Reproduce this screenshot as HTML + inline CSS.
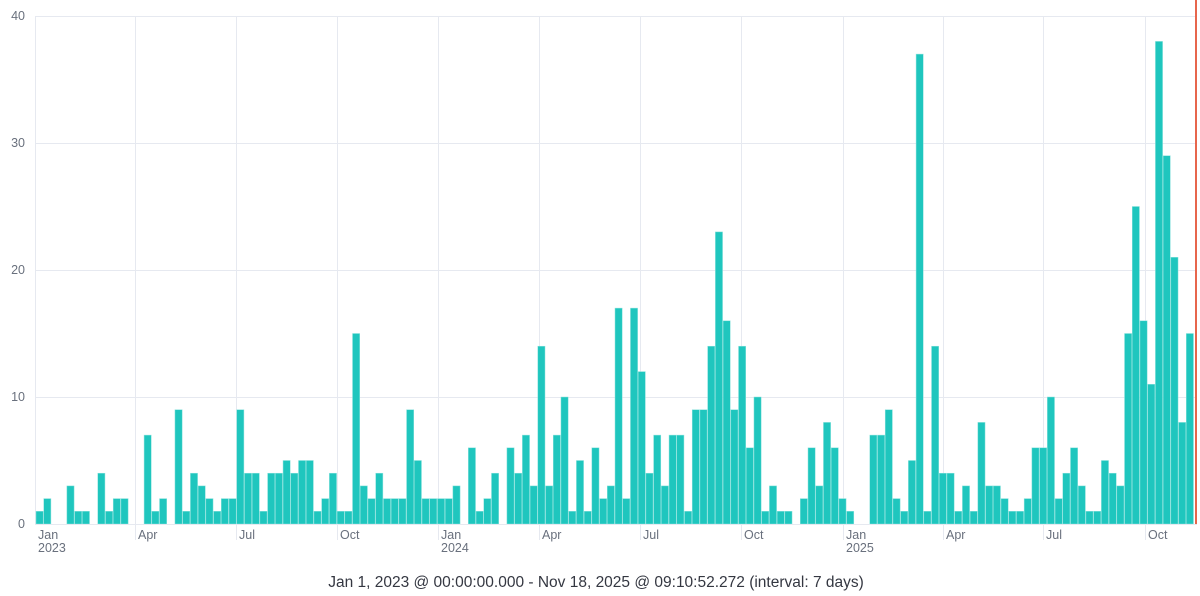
<!DOCTYPE html>
<html><head><meta charset="utf-8"><style>
html,body{margin:0;padding:0;background:#fff;}
svg{display:block;font-family:"Liberation Sans",sans-serif;}
</style></head><body>
<svg id="c" width="1200" height="596" viewBox="0 0 1200 596" xmlns="http://www.w3.org/2000/svg">
<g stroke="#e6e9f0" stroke-width="1">
<line x1="35" y1="16.5" x2="1197" y2="16.5"/>
<line x1="35" y1="143.5" x2="1197" y2="143.5"/>
<line x1="35" y1="270.5" x2="1197" y2="270.5"/>
<line x1="35" y1="397.5" x2="1197" y2="397.5"/>
<line x1="35.5" y1="16" x2="35.5" y2="524"/>
<line x1="135.5" y1="16" x2="135.5" y2="540"/>
<line x1="236.5" y1="16" x2="236.5" y2="540"/>
<line x1="337.5" y1="16" x2="337.5" y2="540"/>
<line x1="438.5" y1="16" x2="438.5" y2="540"/>
<line x1="539.5" y1="16" x2="539.5" y2="540"/>
<line x1="640.5" y1="16" x2="640.5" y2="540"/>
<line x1="741.5" y1="16" x2="741.5" y2="540"/>
<line x1="843.5" y1="16" x2="843.5" y2="540"/>
<line x1="943.5" y1="16" x2="943.5" y2="540"/>
<line x1="1043.5" y1="16" x2="1043.5" y2="540"/>
<line x1="1145.5" y1="16" x2="1145.5" y2="540"/>
</g>
<g id="bars" fill="#1fc6be" stroke="#8fe3de" stroke-width="0.5"></g>
<line x1="35" y1="524.5" x2="1197" y2="524.5" stroke="#e6e9f0"/>
<line x1="1196" y1="0" x2="1196" y2="524" stroke="#e7664c" stroke-width="2"/>
<g fill="#69707d" font-size="12.5" text-anchor="end">
<text x="25" y="20">40</text><text x="25" y="147">30</text><text x="25" y="274">20</text><text x="25" y="401">10</text><text x="25" y="528">0</text>
</g>
<g fill="#69707d" font-size="12.5">
<text x="38" y="539">Jan</text><text x="38" y="552">2023</text>
<text x="138" y="539">Apr</text><text x="239" y="539">Jul</text><text x="340" y="539">Oct</text>
<text x="441" y="539">Jan</text><text x="441" y="552">2024</text>
<text x="542" y="539">Apr</text><text x="643" y="539">Jul</text><text x="744" y="539">Oct</text>
<text x="846" y="539">Jan</text><text x="846" y="552">2025</text>
<text x="946" y="539">Apr</text><text x="1046" y="539">Jul</text><text x="1148" y="539">Oct</text>
</g>
<text x="596" y="587" font-size="15.5" fill="#343741" text-anchor="middle">Jan 1, 2023 @ 00:00:00.000 - Nov 18, 2025 @ 09:10:52.272 (interval: 7 days)</text>
</svg>
<script>
var v=[1,2,0,0,3,1,1,0,4,1,2,2,0,0,7,1,2,0,9,1,4,3,2,1,2,2,9,4,4,1,4,4,5,4,5,5,1,2,4,1,1,15,3,2,4,2,2,2,9,5,2,2,2,2,3,0,6,1,2,4,0,6,4,7,3,14,3,7,10,1,5,1,6,2,3,17,2,17,12,4,7,3,7,7,1,9,9,14,23,16,9,14,6,10,1,3,1,1,0,2,6,3,8,6,2,1,0,0,7,7,9,2,1,5,37,1,14,4,4,1,3,1,8,3,3,2,1,1,2,6,6,10,2,4,6,3,1,1,5,4,3,15,25,16,11,38,29,21,8,15];
var g=document.getElementById('bars'),s='';
for(var i=0;i<v.length;i++){if(!v[i])continue;var x=36+i*7.72,h=v[i]*12.7;
s+='<rect x="'+x.toFixed(2)+'" y="'+(524-h).toFixed(2)+'" width="7.2" height="'+h.toFixed(2)+'"/>';}
g.innerHTML=s;
</script>
</body></html>
